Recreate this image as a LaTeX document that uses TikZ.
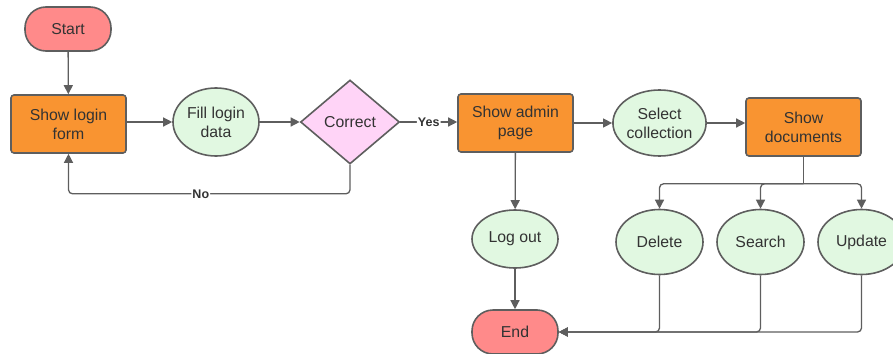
\documentclass[tikz,border=0pt]{standalone}
\usepackage{fontspec}
\setmainfont{Liberation Sans}
\usetikzlibrary{shapes.geometric,arrows.meta}
\definecolor{edgegrey}{HTML}{5E5E5E}
\definecolor{txt}{HTML}{333333}
\definecolor{termfill}{HTML}{FF8A8A}
\definecolor{procfill}{HTML}{F99431}
\definecolor{iofill}{HTML}{E1F8E1}
\definecolor{decfill}{HTML}{FFD4F7}
\tikzset{
  base/.style={draw=edgegrey, line width=1.6pt, text=txt, font=\fontsize{15.8}{19}\selectfont, align=center, inner sep=0pt},
  term/.style={base, rectangle, rounded corners=21pt, fill=termfill, minimum width=86pt, minimum height=44pt},
  proc/.style={base, rectangle, rounded corners=3pt, fill=procfill, minimum width=115pt, minimum height=58pt},
  io/.style={base, ellipse, fill=iofill, minimum width=86pt},
  dec/.style={base, diamond, fill=decfill, minimum width=99pt, minimum height=84pt},
  link/.style={draw=edgegrey, line width=1.3pt, rounded corners=4pt, -{Triangle[length=9pt,width=9pt]}},
  plain/.style={draw=edgegrey, line width=1.3pt, rounded corners=4pt},
  tag/.style={fill=white, inner sep=1pt, text=txt, font=\bfseries\fontsize{12.5}{14}\selectfont}
}
\begin{document}
\begin{tikzpicture}[x=1pt,y=-1pt]
  \useasboundingbox (0,0) rectangle (893,353);
  % main row
  \node[term] (start) at (68,29) {Start};
  \node[proc] (login) at (68.5,124) {Show login\\form};
  \node[io, minimum height=68pt] (fill) at (216,122) {Fill login\\data};
  \node[dec] (correct) at (350,122) {Correct};
  \node[proc] (admin) at (515.5,123) {Show admin\\page};
  \node[io, minimum width=87pt, minimum height=66pt] (select) at (659.5,123) {Select\\collection};
  \node[proc] (docs) at (803.5,127) {Show\\documents};
  % lower row
  \node[io, minimum height=58pt] (logout) at (515,239) {Log out};
  \node[io, minimum width=87pt, minimum height=65pt] (del) at (659.5,242) {Delete};
  \node[io, minimum width=87pt, minimum height=65pt] (search) at (760.5,242) {Search};
  \node[io, minimum width=87pt, minimum height=65pt] (update) at (861.5,242) {Update};
  \node[term] (end) at (515,332) {End};

  % connectors
  \draw[link] (start) -- (login);
  \draw[link] (login.east |- fill.west) -- (fill.west);
  \draw[link] (fill) -- (correct);
  \draw[link] (correct.east) -- node[tag] {Yes} (correct.east -| admin.west);
  \draw[link] (correct.south) -- ++(0,29) coordinate (nb) -- node[tag, pos=0.53] {No} (nb -| login.south) -- (login.south);
  \draw[link] (admin.east |- select.west) -- (select.west);
  \draw[link] (select.east) -- (select.east -| docs.west);
  \draw[link] (admin) -- (logout);
  \draw[link] (logout) -- (end);

  % branch from the document list
  \draw[plain] (docs.south) -- ++(0,27) coordinate (bj);
  \draw[link] (bj) -| (del.north);
  \draw[link] (bj) -| (search.north);
  \draw[link] (bj) -| (update.north);

  % all actions finish at the end node
  \draw[link] (del.south) |- (end.east);
  \draw[link] (search.south) |- (end.east);
  \draw[link] (update.south) |- (end.east);
\end{tikzpicture}
\end{document}
